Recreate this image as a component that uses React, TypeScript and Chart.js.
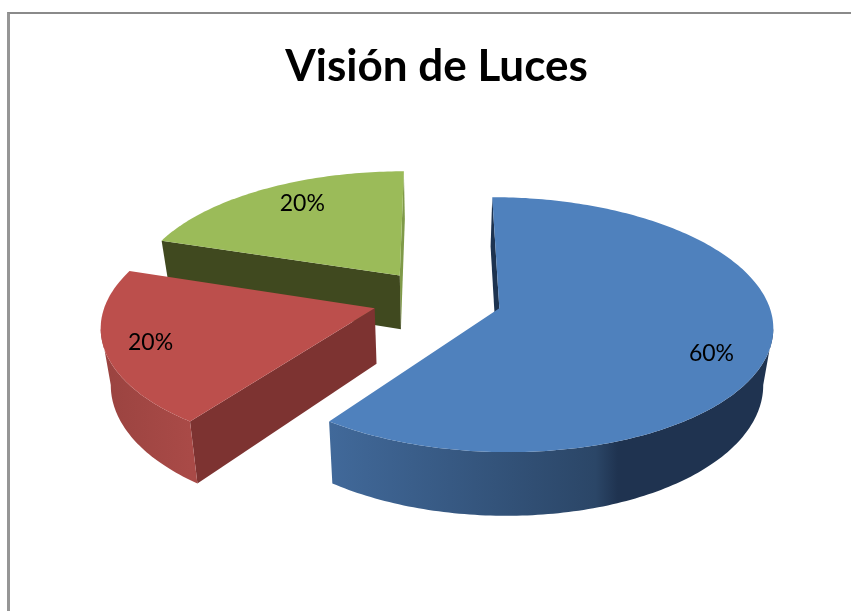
import React, { useEffect, useRef } from "react";
import { Chart, registerables } from "chart.js";

Chart.register(...registerables);

const TITLE = "Visión de Luces";
const categories = ["Categoría 1", "Categoría 2", "Categoría 3"];
const values = [60, 20, 20];
const topColors = ["#4f81bd", "#bc4f4c", "#9bbb59"];

const wallColors = [
  { start: "#1d3350", end: "#1d3350", outer: [[0, "#41699a"], [0.6, "#2b4667"], [0.65, "#1f3350"], [1, "#1f3350"]] },
  { start: "#7d3331", end: "#7d3331", outer: [[0, "#9a4340"], [1, "#a94a47"]] },
  { start: "#40491f", end: "#7f9a48", outer: [[0, "#7f9a48"], [1, "#7f9a48"]] },
];
const labelNudges = [[3, 14], [-15, 3], [11, -3]];

// 3D view parameters (screen pixels)
const CX = 437;
const CY = 299;
const R0 = 268;
const TILT = 0.459;
const PERSP = 0.127;
const DEPTH = 55;
const BOTTOM_SHRINK = 0.97;

type P = { x: number; y: number };

function top(X: number, Y: number): P & { w: number } {
  const w = 1 - (PERSP * Y) / R0;
  return { x: CX + X / w, y: CY + (TILT * Y) / w, w };
}
function bottom(X: number, Y: number): P {
  const t = top(X, Y);
  return { x: CX + (t.x - CX) * BOTTOM_SHRINK, y: t.y + DEPTH / t.w };
}

function poly(ctx: CanvasRenderingContext2D, pts: P[], fill: string | CanvasGradient) {
  ctx.beginPath();
  pts.forEach((p, i) => (i ? ctx.lineTo(p.x, p.y) : ctx.moveTo(p.x, p.y)));
  ctx.closePath();
  ctx.fillStyle = fill;
  ctx.fill();
}

const pie3d = {
  id: "pie3d",
  beforeDatasetsDraw(chart: any) {
    const ctx: CanvasRenderingContext2D = chart.ctx;
    const meta = chart.getDatasetMeta(0);
    const total = values.reduce((a, b) => a + b, 0);
    const order = meta.data.map((_: any, i: number) => i).reverse();

    for (const i of order) {
      const arc = meta.data[i];
      const scale = R0 / arc.outerRadius;
      const mid = (arc.startAngle + arc.endAngle) / 2;
      const off = arc.options.offset * scale;
      const ax = Math.cos(mid) * off;
      const ay = Math.sin(mid) * off;
      const n = Math.max(8, Math.round(((arc.endAngle - arc.startAngle) * 180) / Math.PI));
      const rim: [number, number][] = [];
      for (let k = 0; k <= n; k++) {
        const a = arc.startAngle + ((arc.endAngle - arc.startAngle) * k) / n;
        rim.push([ax + Math.cos(a) * R0, ay + Math.sin(a) * R0]);
      }
      const tApex = top(ax, ay);
      const bApex = bottom(ax, ay);
      const tRim = rim.map(([x, y]) => top(x, y));
      const bRim = rim.map(([x, y]) => bottom(x, y));
      const colors = wallColors[i];

      // end wall (rim end to apex)
      if (tApex.x < tRim[n].x) poly(ctx, [tRim[n], tApex, bApex, bRim[n]], colors.end);
      // start wall (apex to rim start)
      if (tRim[0].x < tApex.x) poly(ctx, [tApex, tRim[0], bRim[0], bApex], colors.start);

      // outer wall: rim run that travels leftward, clockwise on screen
      const run: number[] = [];
      for (let k = 0; k < n; k++) {
        if (tRim[k + 1].x < tRim[k].x) {
          if (!run.length || run[run.length - 1] !== k) run.push(k);
          run.push(k + 1);
        }
      }
      if (run.length) {
        const upper = run.map((k) => tRim[k]);
        const lower = run.map((k) => bRim[k]).reverse();
        const xs = upper.map((p) => p.x);
        const g = ctx.createLinearGradient(Math.min(...xs), 0, Math.max(...xs), 0);
        colors.outer.forEach(([s, c]) => g.addColorStop(s as number, c as string));
        poly(ctx, [...upper, ...lower], g);
      }

      // top face
      poly(ctx, [tApex, ...tRim], arc.options.backgroundColor);

      // percentage label
      const lr = R0 * 0.78;
      const lp = top(ax + Math.cos(mid) * lr, ay + Math.sin(mid) * lr);
      ctx.fillStyle = "#000";
      ctx.font = "23px Lato";
      ctx.textAlign = "center";
      ctx.textBaseline = "middle";
      ctx.fillText(
        `${Math.round((values[i] / total) * 100)}%`,
        lp.x + labelNudges[i][0],
        lp.y + labelNudges[i][1]
      );
    }
    return false;
  },
};

export default function App() {
  const ref = useRef<HTMLCanvasElement | null>(null);
  useEffect(() => {
    document.body.style.margin = "0";
    const chart = new Chart(ref.current!, {
      type: "pie",
      data: {
        labels: categories,
        datasets: [{ data: values, backgroundColor: topColors, borderWidth: 0, offset: 54.9 }],
      },
      options: {
        responsive: false,
        animation: false,
        layout: { padding: { left: 22, top: 40 } },
        plugins: {
          legend: { display: false },
          tooltip: { enabled: false },
          title: {
            display: true,
            text: TITLE,
            color: "#000",
            font: { family: "Lato", size: 44, weight: "bold" },
            padding: { top: 0, bottom: 10 },
          },
        },
      },
      plugins: [pie3d as any],
    });
    return () => chart.destroy();
  }, []);
  return (
    <div style={{ position: "relative", width: 851, height: 611, overflow: "hidden" }}>
      <div
        style={{
          position: "absolute",
          left: 7,
          top: 12,
          right: 0,
          bottom: 0,
          borderLeft: "3px solid #969696",
          borderTop: "2px solid #8a8a8a",
        }}
      />
      <canvas ref={ref} width={851} height={611} style={{ position: "absolute", left: 0, top: 0 }} />
    </div>
  );
}
